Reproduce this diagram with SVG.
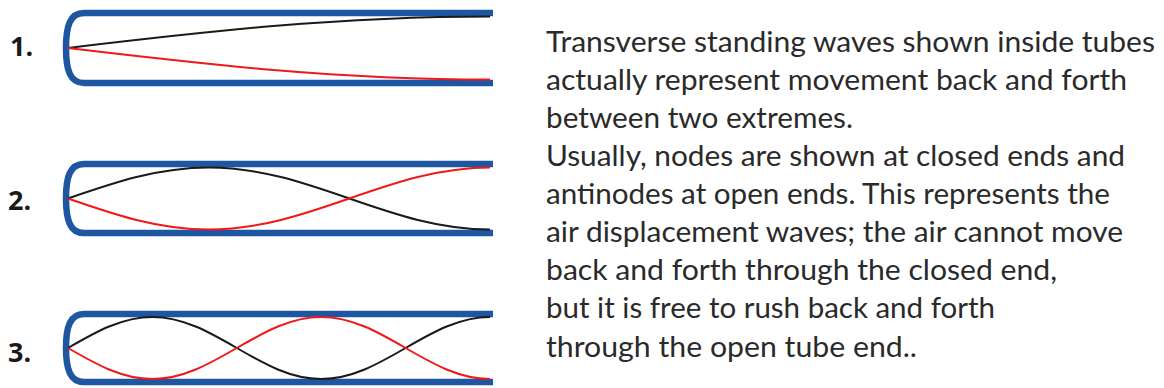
<svg xmlns="http://www.w3.org/2000/svg" width="1164" height="388" viewBox="0 0 1164 388">
<style>
.tube{fill:none;stroke:#1f56a2;stroke-width:6.5;stroke-linejoin:round}
.wb{fill:none;stroke:#1a1a1a;stroke-width:2}
.wr{fill:none;stroke:#f01818;stroke-width:2}
.num{font-family:"Open Sans","Liberation Sans",sans-serif;font-weight:bold;font-size:27px;fill:#1a1a1a}
.txt{font-family:Lato,"Open Sans",sans-serif;font-size:29px;fill:#2a2a2a}
</style>
<rect width="1164" height="388" fill="#ffffff"/>
<g id="tube1">
<path class="tube" d="M493,13 H84 C70,13 66,26 66,48 C66,70 70,83 84,83 H493"/>
<path class="wb" d="M68,48 C205.6,31.6 337.3,16.5 490,16.5"/>
<path class="wr" d="M68,48 C205.6,64.4 337.3,79.5 490,79.5"/>
<text class="num" x="10" y="56">1.</text>
</g>
<g id="tube2">
<path class="tube" d="M493,164 H84 C70,164 66,177 66,198.5 C66,220 70,233 84,233 H493"/>
<path class="wb" d="M68,198.5 C113.9,182.6 157.8,167.5 208.7,167.5 C259.6,167.5 303.5,182.6 349.3,198.5 C395.2,214.4 439.1,229.5 490,229.5"/>
<path class="wr" d="M68,198.5 C113.9,214.4 157.8,229.5 208.7,229.5 C259.6,229.5 303.5,214.4 349.3,198.5 C395.2,182.6 439.1,167.5 490,167.5"/>
<text class="num" x="8" y="210">2.</text>
</g>
<g id="tube3">
<path class="tube" d="M493,314 H84 C70,314 66,327 66,348 C66,369 70,382 84,382 H493"/>
<path class="wb" d="M68,348 C95.5,332.1 121.9,317 152.4,317 C182.9,317 209.3,332.1 236.8,348 C264.3,363.9 290.7,379 321.2,379 C351.7,379 378.1,363.9 405.6,348 C433.1,332.1 459.5,317 490,317"/>
<path class="wr" d="M68,348 C95.5,363.9 121.9,379 152.4,379 C182.9,379 209.3,363.9 236.8,348 C264.3,332.1 290.7,317 321.2,317 C351.7,317 378.1,332.1 405.6,348 C433.1,363.9 459.5,379 490,379"/>
<text class="num" x="8" y="362">3.</text>
</g>
<g id="caption" class="txt">
<text x="546" y="52" textLength="609" lengthAdjust="spacingAndGlyphs">Transverse standing waves shown inside tubes</text>
<text x="546" y="90" textLength="581" lengthAdjust="spacingAndGlyphs">actually represent movement back and forth</text>
<text x="546" y="128" textLength="307" lengthAdjust="spacingAndGlyphs">between two extremes.</text>
<text x="546" y="166" textLength="579" lengthAdjust="spacingAndGlyphs">Usually, nodes are shown at closed ends and</text>
<text x="546" y="204" textLength="564" lengthAdjust="spacingAndGlyphs">antinodes at open ends. This represents the</text>
<text x="546" y="242" textLength="577" lengthAdjust="spacingAndGlyphs">air displacement waves; the air cannot move</text>
<text x="546" y="280" textLength="511" lengthAdjust="spacingAndGlyphs">back and forth through the closed end,</text>
<text x="546" y="318" textLength="449" lengthAdjust="spacingAndGlyphs">but it is free to rush back and forth</text>
<text x="546" y="357" textLength="371" lengthAdjust="spacingAndGlyphs">through the open tube end..</text>
</g>
</svg>
